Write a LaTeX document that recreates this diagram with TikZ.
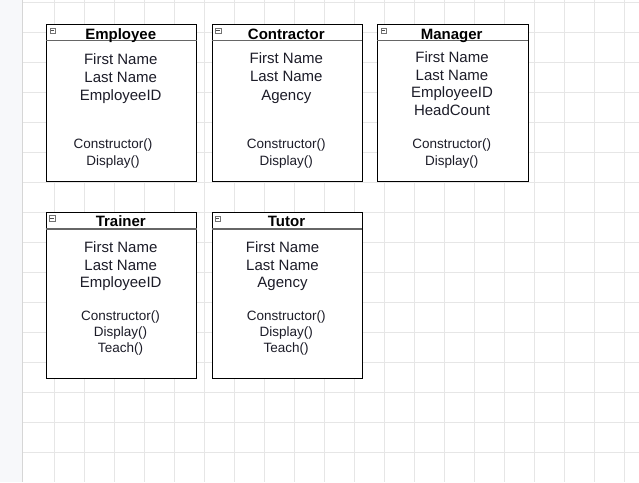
\documentclass[tikz,border=0pt]{standalone}
\usepackage{fontspec}
\setmainfont{Liberation Sans}
\usepackage{tikz}
\definecolor{gridgray}{HTML}{E6E6E6}
\definecolor{stripgray}{HTML}{F7F8FA}
\definecolor{edgegray}{HTML}{D6D6D6}
\definecolor{attrtext}{HTML}{1C1C28}
\tikzset{%
    classbox/.style={draw=black,line width=0.9pt,fill=white,rectangle,inner sep=0pt,anchor=north west}
}

\begin{document}
\begin{tikzpicture}[
        x=1pt, y=-1pt,
        gridline/.style={gridgray,line width=0.8pt},
        headline/.style={black!60,line width=1.3pt},
        title/.style={anchor=base,inner sep=0pt,font=\fontsize{15}{18}\selectfont\bfseries},
        attr/.style={anchor=base,inner sep=0pt,text=attrtext,font=\fontsize{15}{18}\selectfont},
        meth/.style={anchor=base,inner sep=0pt,text=attrtext,font=\fontsize{13.5}{16}\selectfont},
        minusbox/.style={draw=black!55,line width=0.5pt,rectangle,inner sep=0pt,minimum size=5.5pt},
        minusline/.style={black!70,line width=0.6pt}
        ]
        % canvas
        \useasboundingbox (0,0) rectangle (639,482);
        \fill[white] (0,0) rectangle (639,482);
        \fill[stripgray] (0,0) rectangle (22,482);
        \foreach \gx in {54,84,...,624}
            \draw[gridline] (\gx,0) -- (\gx,482);
        \foreach \gy in {2,32,...,452}
            \draw[gridline] (22,\gy) -- (639,\gy);
        \draw[edgegray,line width=1pt] (22,0) -- (22,482);

        % boxes
        \node[classbox,minimum width=150.5pt,minimum height=157.5pt] (employee) at (45.5,23.5){};
        \node[classbox,minimum width=150pt,minimum height=157.5pt] (contractor) at (211.5,23.5){};
        \node[classbox,minimum width=150.5pt,minimum height=157.5pt] (manager) at (377,23.5){};
        \node[classbox,minimum width=150.5pt,minimum height=166pt] (trainer) at (45.5,211.5){};
        \node[classbox,minimum width=150pt,minimum height=166pt] (tutor) at (211.5,211.5){};

        % header lines
        \draw[headline] ([yshift=-17pt]employee.north west) -- ([yshift=-17pt]employee.north east);
        \draw[headline] ([yshift=-17pt]contractor.north west) -- ([yshift=-17pt]contractor.north east);
        \draw[headline] ([yshift=-17pt]manager.north west) -- ([yshift=-17pt]manager.north east);
        \draw[headline] ([yshift=-17.5pt]trainer.north west) -- ([yshift=-17.5pt]trainer.north east);
        \draw[headline] ([yshift=-17.5pt]tutor.north west) -- ([yshift=-17.5pt]tutor.north east);

        % collapse icons
        \node[minusbox] (employeeM) at ([xshift=7pt,yshift=-7pt]employee.north west){};
        \node[minusbox] (contractorM) at ([xshift=6.5pt,yshift=-7pt]contractor.north west){};
        \node[minusbox] (managerM) at ([xshift=6.5pt,yshift=-7pt]manager.north west){};
        \node[minusbox] (trainerM) at ([xshift=6.5pt,yshift=-6.5pt]trainer.north west){};
        \node[minusbox] (tutorM) at ([xshift=6pt,yshift=-7pt]tutor.north west){};
        \draw[minusline] ([xshift=1.3pt]employeeM.west) -- ([xshift=-1.3pt]employeeM.east);
        \draw[minusline] ([xshift=1.3pt]contractorM.west) -- ([xshift=-1.3pt]contractorM.east);
        \draw[minusline] ([xshift=1.3pt]managerM.west) -- ([xshift=-1.3pt]managerM.east);
        \draw[minusline] ([xshift=1.3pt]trainerM.west) -- ([xshift=-1.3pt]trainerM.east);
        \draw[minusline] ([xshift=1.3pt]tutorM.west) -- ([xshift=-1.3pt]tutorM.east);

        % Employee
        \node[title] (employeeT) at (120.7,39) {Employee};
        \node[attr] (employeeA1) at (120.7,64) {First Name};
        \node[attr] (employeeA2) at (120.7,82) {Last Name};
        \node[attr] (employeeA3) at (120.7,100) {EmployeeID};
        \node[meth] (employeeM1) at (113,148.3) {Constructor()};
        \node[meth] (employeeM2) at (113,165) {Display()};

        % Contractor
        \node[title] (contractorT) at (286.3,39) {Contractor};
        \node[attr] (contractorA1) at (286.3,63.5) {First Name};
        \node[attr] (contractorA2) at (286.3,81.7) {Last Name};
        \node[attr] (contractorA3) at (286.3,100) {Agency};
        \node[meth] (contractorM1) at (286.2,148.5) {Constructor()};
        \node[meth] (contractorM2) at (286.2,165) {Display()};

        % Manager
        \node[title] (managerT) at (451.7,39) {Manager};
        \node[attr] (managerA1) at (452,62.3) {First Name};
        \node[attr] (managerA2) at (452,80) {Last Name};
        \node[attr] (managerA3) at (452,97.7) {EmployeeID};
        \node[attr] (managerA4) at (452,115.7) {HeadCount};
        \node[meth] (managerM1) at (451.7,148.3) {Constructor()};
        \node[meth] (managerM2) at (451.7,165.5) {Display()};

        % Trainer
        \node[title] (trainerT) at (120.8,226.7) {Trainer};
        \node[attr] (trainerA1) at (120.7,252.3) {First Name};
        \node[attr] (trainerA2) at (120.7,270) {Last Name};
        \node[attr] (trainerA3) at (120.7,287.7) {EmployeeID};
        \node[meth] (trainerM1) at (120.5,320.3) {Constructor()};
        \node[meth] (trainerM2) at (120.5,336.7) {Display()};
        \node[meth] (trainerM3) at (120.5,352) {Teach()};

        % Tutor
        \node[title] (tutorT) at (286.5,226.7) {Tutor};
        \node[attr] (tutorA1) at (282.5,252.3) {First Name};
        \node[attr] (tutorA2) at (282.5,270) {Last Name};
        \node[attr] (tutorA3) at (282.5,287.7) {Agency};
        \node[meth] (tutorM1) at (286.2,320.3) {Constructor()};
        \node[meth] (tutorM2) at (286.2,336.7) {Display()};
        \node[meth] (tutorM3) at (286.2,352) {Teach()};
    \end{tikzpicture}
\end{document}
